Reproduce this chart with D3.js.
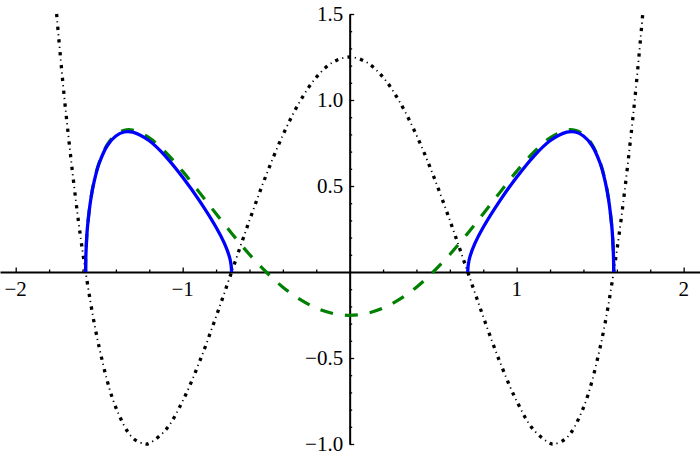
<!DOCTYPE html>
<html><head><meta charset="utf-8">
<script src="https://cdn.jsdelivr.net/npm/d3@7"></script>
<style>
html,body{margin:0;padding:0;background:#fff;}
svg{display:block;}
</style></head>
<body>
<script>
// ---- data ----
const blackX = [-1.755,-1.7,-1.6,-1.5,-1.4,-1.3,-1.225,-1.2,-1.1,-1.0,-0.9,-0.8,-0.7,-0.6,-0.5,-0.4,-0.3,-0.2,-0.1,0,
                0.1,0.2,0.3,0.4,0.5,0.6,0.7,0.8,0.9,1.0,1.1,1.2,1.225,1.3,1.4,1.5,1.6,1.7,1.755];
const blackY = [1.5,0.932,0.124,-0.438,-0.788,-0.964,-1.0,-0.996,-0.916,-0.75,-0.524,-0.260,0.020,0.300,0.563,0.796,0.988,1.132,1.220,1.25,
                1.220,1.132,0.988,0.796,0.563,0.300,0.020,-0.260,-0.524,-0.75,-0.916,-0.996,-1.0,-0.964,-0.788,-0.438,0.124,0.932,1.5];

const greenX = [-1.5811,-1.58,-1.575,-1.57,-1.55,-1.53,-1.5,-1.45,-1.4,-1.35,-1.3,-1.2,-1.1,-1.0,-0.9,-0.8,-0.7,-0.6,-0.5,-0.4,-0.3,-0.2,-0.1,0,
                0.1,0.2,0.3,0.4,0.5,0.6,0.7,0.8,0.9,1.0,1.1,1.2,1.3,1.35,1.4,1.45,1.5,1.53,1.55,1.57,1.575,1.58,1.5811];
const greenY = [0,0.086,0.198,0.264,0.428,0.531,0.637,0.744,0.800,0.824,0.825,0.780,0.694,0.585,0.463,0.339,0.217,0.102,0,-0.088,-0.158,-0.210,-0.241,-0.252,
                -0.241,-0.210,-0.158,-0.088,0,0.102,0.217,0.339,0.463,0.585,0.694,0.780,0.825,0.824,0.800,0.744,0.637,0.531,0.428,0.264,0.198,0.086,0];

const blueLeftX  = [-1.5811,-1.58,-1.575,-1.57,-1.55,-1.53,-1.5,-1.45,-1.4,-1.35,-1.3,-1.2,-1.1,-1.0,-0.9,-0.8,-0.75,-0.72,-0.71,-0.7071];
const blueLeftY  = [0,0.085,0.196,0.263,0.425,0.527,0.632,0.737,0.791,0.814,0.813,0.763,0.670,0.551,0.415,0.260,0.166,0.088,0.041,0];
const blueRightX = [0.7071,0.71,0.72,0.75,0.8,0.9,1.0,1.1,1.2,1.3,1.35,1.4,1.45,1.5,1.53,1.55,1.57,1.575,1.58,1.5811];
const blueRightY = [0,0.041,0.088,0.166,0.260,0.415,0.551,0.670,0.763,0.813,0.814,0.791,0.737,0.632,0.527,0.425,0.263,0.196,0.085,0];

const xMajorTicks = [-2,-1,1,2];
const xMinorTicks = [-1.8,-1.6,-1.4,-1.2,-0.8,-0.6,-0.4,-0.2,0.2,0.4,0.6,0.8,1.2,1.4,1.6,1.8];
const yMajorTicks = [-1.0,-0.5,0.5,1.0,1.5];
const yMinorTicks = [-0.9,-0.8,-0.7,-0.6,-0.4,-0.3,-0.2,-0.1,0.1,0.2,0.3,0.4,0.6,0.7,0.8,0.9,1.1,1.2,1.3,1.4];

// ---- drawing ----
const W = 700, H = 459;
const svg = d3.select("body").append("svg").attr("width", W).attr("height", H);

const x = d3.scaleLinear().domain([-2.094, 2.098]).range([0, W]);
const y = d3.scaleLinear().domain([-1.0, 1.5]).range([444, 14]);
const zeroY = y(0), zeroX = x(0);
const fx = d3.format("d"), fy = d3.format(".1f");

// axes (lines and ticks)
svg.append("g").attr("transform", `translate(0,${zeroY})`)
  .call(d3.axisBottom(x).tickValues(xMajorTicks).tickSizeInner(-4.5).tickSizeOuter(0).tickFormat(""));
const xMinor = svg.append("g").attr("transform", `translate(0,${zeroY})`)
  .call(d3.axisBottom(x).tickValues(xMinorTicks).tickSizeInner(-2.5).tickSizeOuter(0).tickFormat(""));
xMinor.select(".domain").remove();

svg.append("g").attr("transform", `translate(${zeroX},0)`)
  .call(d3.axisLeft(y).tickValues(yMajorTicks).tickSizeInner(-4.5).tickSizeOuter(0).tickFormat(""));
const yMinor = svg.append("g").attr("transform", `translate(${zeroX},0)`)
  .call(d3.axisLeft(y).tickValues(yMinorTicks).tickSizeInner(-2.5).tickSizeOuter(0).tickFormat(""));
yMinor.select(".domain").remove();

svg.selectAll("g text").remove();
svg.selectAll(".domain").attr("stroke", "#000").attr("stroke-width", 2);
svg.selectAll(".tick line").attr("stroke", "#000").attr("stroke-width", 1.3);

// tick labels placed from the same scales
svg.selectAll("text.xl").data(xMajorTicks).join("text").attr("class", "xl")
  .attr("x", d => x(d)).attr("y", zeroY + 23.5).attr("text-anchor", "middle")
  .attr("font-family", "Liberation Serif").attr("font-size", 21).attr("fill", "#000")
  .text(d => fx(d));
svg.selectAll("text.yl").data(yMajorTicks).join("text").attr("class", "yl")
  .attr("x", zeroX - 6.5).attr("y", d => y(d) + 6.5).attr("text-anchor", "end")
  .attr("font-family", "Liberation Serif").attr("font-size", 21).attr("fill", "#000")
  .text(d => fy(d));

const line = d3.line().x(d => x(d[0])).y(d => y(d[1])).curve(d3.curveCatmullRom.alpha(0.5));
const zip = (a, b) => a.map((v, i) => [v, b[i]]);

// black dot-dashed curve: big square dots + small dots
const blackData = zip(blackX, blackY);
svg.append("path").attr("d", line(blackData)).attr("fill", "none")
  .attr("stroke", "#000").attr("stroke-width", 3.3).attr("stroke-dasharray", "3.3,9.5");
svg.append("path").attr("d", line(blackData)).attr("fill", "none")
  .attr("stroke", "#000").attr("stroke-width", 1.8).attr("stroke-dasharray", "1.2,11.6")
  .attr("stroke-dashoffset", -7.4);

// green dashed
svg.append("path").attr("d", line(zip(greenX, greenY))).attr("fill", "none")
  .attr("stroke", "#008000").attr("stroke-width", 3.2).attr("stroke-dasharray", "13,12");

// blue solid lobes
[[blueLeftX, blueLeftY], [blueRightX, blueRightY]].forEach(([xs, ys]) => {
  svg.append("path").attr("d", line(zip(xs, ys))).attr("fill", "none")
    .attr("stroke", "#0000ff").attr("stroke-width", 3.3);
});
</script>
</body></html>
